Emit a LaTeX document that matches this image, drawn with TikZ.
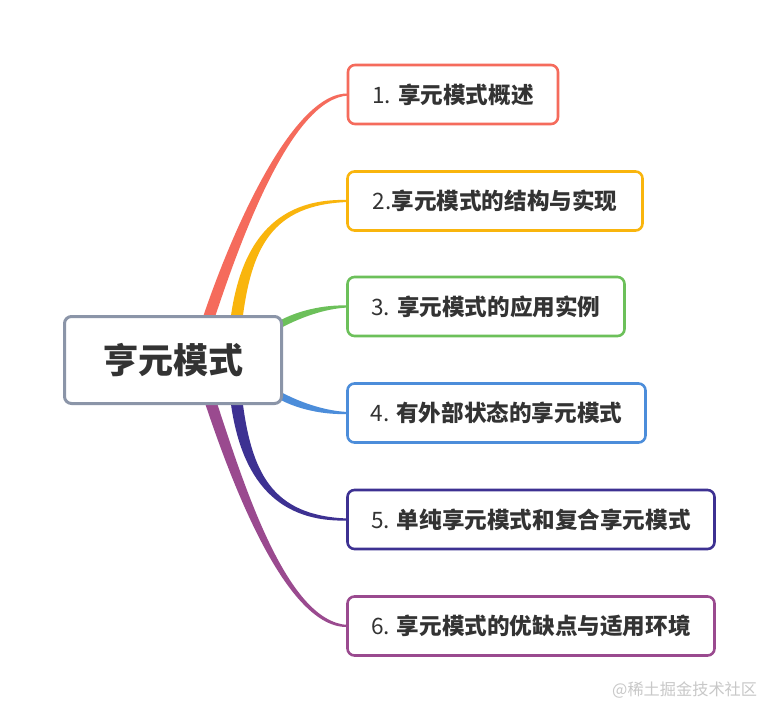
\documentclass[tikz,border=0pt]{standalone}
\usepackage{fontspec}
\setmainfont{Noto Sans CJK SC}
\usetikzlibrary{calc,backgrounds}
\definecolor{cred}{HTML}{F56B5C}
\definecolor{cyel}{HTML}{F9B50D}
\definecolor{cgrn}{HTML}{6CC05A}
\definecolor{cblu}{HTML}{4C8DDA}
\definecolor{cind}{HTML}{3D3192}
\definecolor{cpur}{HTML}{9A4A8F}
\definecolor{cgray}{HTML}{8B95A8}
\definecolor{ctext}{HTML}{333333}
\definecolor{cmark}{HTML}{C8C8C8}
\begin{document}
\begin{tikzpicture}[x=1pt,y=-1pt]
\tikzset{
  topic/.style={draw, rounded corners=7pt, line width=2.6pt, fill=white,
    minimum height=59pt, inner sep=0pt, text=ctext},
  smallfont/.style={font=\fontsize{22.6}{26}\selectfont\bfseries},
  bigfont/.style={font=\fontsize{22.6}{26}\selectfont\bfseries},
  root/.style={draw=cgray, rounded corners=7pt, line width=3pt, fill=white,
    minimum width=217pt, minimum height=87pt, inner sep=0pt, text=ctext,
    font=\fontsize{35}{40}\selectfont\bfseries},
  watermark/.style={text=cmark, font=\fontsize{16.2}{19}\selectfont, inner sep=0pt}
}
\useasboundingbox (0,0) rectangle (777,718);
\node[root] (c) at (173,360) {亨元模式};
\node[topic, smallfont, draw=cred, minimum width=210pt] (b1) at (453,94.5) {{\mdseries 1.} 享元模式概述};
\node[topic, smallfont, draw=cyel, minimum width=295pt] (b2) at (495,201) {{\mdseries 2.}享元模式的结构与实现};
\node[topic, smallfont, draw=cgrn, minimum width=277pt] (b3) at (486,306.5) {{\mdseries 3.} 享元模式的应用实例};
\node[topic, bigfont, draw=cblu, minimum width=298pt] (b4) at (496.5,413) {{\mdseries 4.} 有外部状态的享元模式};
\node[topic, bigfont, draw=cind, minimum width=367pt] (b5) at (531,519.5) {{\mdseries 5.} 单纯享元模式和复合享元模式};
\node[topic, bigfont, draw=cpur, minimum width=367pt] (b6) at (531,626) {{\mdseries 6.} 享元模式的优缺点与适用环境};
\node[watermark, anchor=west] (wm) at (612,690) {@稀土掘金技术社区};
\begin{pgfonlayer}{background}
\fill[white] (0,0) rectangle (777,718);
% 1 red
\fill[cred] ($(c.north)+(28,8)$) .. controls +(28,-85) and +(-57,-2.5) .. ($(b1.west)+(2,-1)$)
  -- ($(b1.west)+(2,1)$) .. controls +(-57,2.5) and +(28,-85) .. ($(c.north)+(40,8)$) -- cycle;
% 2 yellow
\fill[cyel] ($(c.north)+(57,8)$) .. controls +(9,-75) and +(-77,-2.5) .. ($(b2.west)+(2,-1)$)
  -- ($(b2.west)+(2,1)$) .. controls +(-77,2.5) and +(9,-75) .. ($(c.north)+(69,8)$) -- cycle;
% 3 green
\fill[cgrn] ($(c.east)+(-4,-39)$) .. controls +(18,-10) and +(-25,-1) .. ($(b3.west)+(2,-1)$)
  -- ($(b3.west)+(2,1)$) .. controls +(-25,1) and +(18,-10) .. ($(c.east)+(-4,-31)$) -- cycle;
% 4 blue
\fill[cblu] ($(c.east)+(-4,39)$) .. controls +(18,10) and +(-25,1) .. ($(b4.west)+(2,1)$)
  -- ($(b4.west)+(2,-1)$) .. controls +(-25,-1) and +(18,10) .. ($(c.east)+(-4,31)$) -- cycle;
% 5 indigo
\fill[cind] ($(c.south)+(57,-8)$) .. controls +(9,75) and +(-77,2.5) .. ($(b5.west)+(2,1)$)
  -- ($(b5.west)+(2,-1)$) .. controls +(-77,-2.5) and +(9,75) .. ($(c.south)+(69,-8)$) -- cycle;
% 6 purple
\fill[cpur] ($(c.south)+(30,-8)$) .. controls +(28,85) and +(-62,2.5) .. ($(b6.west)+(2,1)$)
  -- ($(b6.west)+(2,-1)$) .. controls +(-62,-2.5) and +(28,85) .. ($(c.south)+(42,-8)$) -- cycle;
\end{pgfonlayer}
\end{tikzpicture}
\end{document}
